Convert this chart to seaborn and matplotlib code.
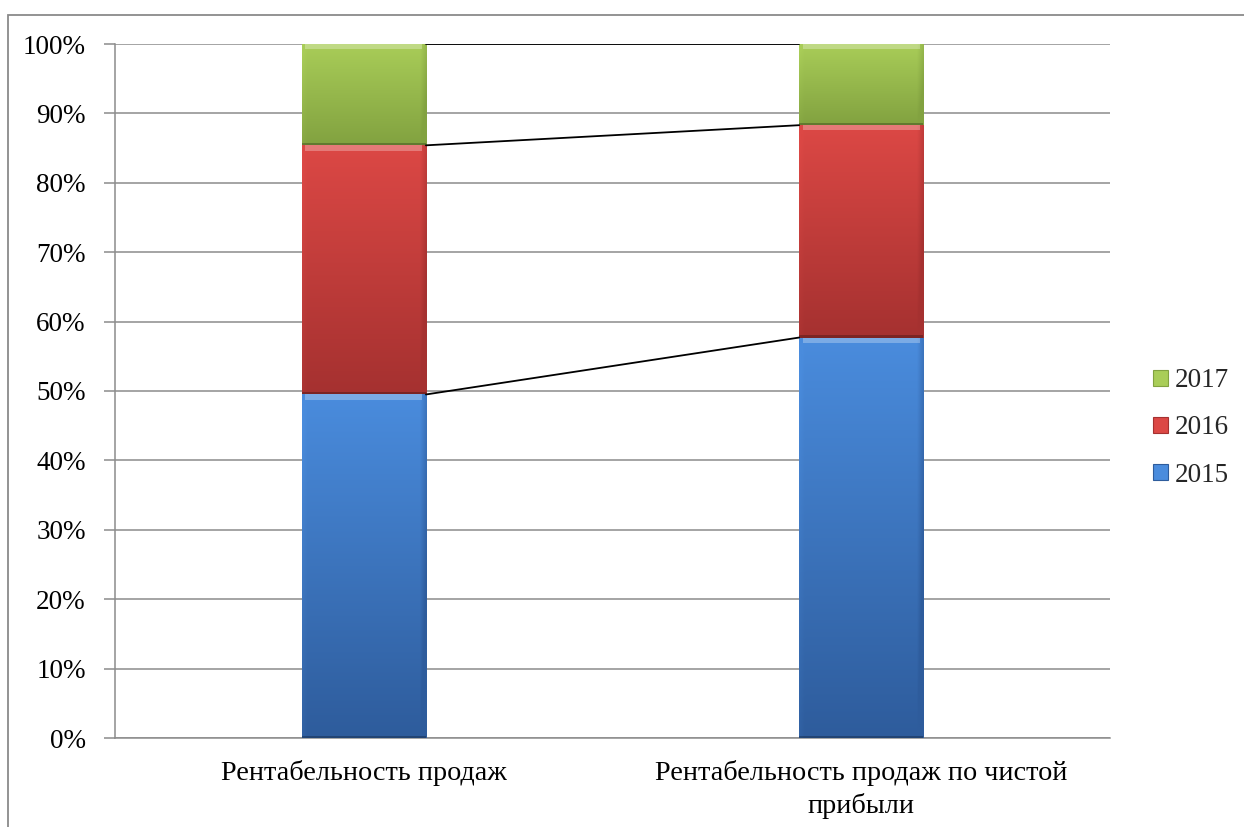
import numpy as np
import pandas as pd
import matplotlib
matplotlib.use("Agg")
import matplotlib.pyplot as plt
import seaborn as sns
from matplotlib.colors import LinearSegmentedColormap
from matplotlib.patches import Rectangle, Patch

# Data: share of each year in the indicator (percent of the 100% stack)
categories = ["Рентабельность продаж", "Рентабельность продаж по чистой\nприбыли"]
years = ["2015", "2016", "2017"]
share_2015 = [49.5, 57.7]
share_2016 = [35.9, 30.6]
share_2017 = [14.6, 11.7]
y_ticks = list(range(0, 101, 10))
y_tick_labels = [f"{t}%" for t in y_ticks]

# Colours per series: (top, bottom) of the vertical gradient
series_colors = {
    "2015": ("#4A8CDD", "#2E5C9C"),
    "2016": ("#DC4845", "#A53130"),
    "2017": ("#A9CD58", "#82A240"),
}

sns.set_theme(style="white")
plt.rcParams["font.family"] = ["Liberation Serif", "DejaVu Serif"]

df = pd.DataFrame({"category": categories, "2015": share_2015,
                   "2016": share_2016, "2017": share_2017})
df["cum_2015"] = df["2015"]
df["cum_2016"] = df["2015"] + df["2016"]
df["cum_2017"] = df["cum_2016"] + df["2017"]
lower_of = {"2015": None, "2016": "cum_2015", "2017": "cum_2016"}

fig = plt.figure(figsize=(12.44, 8.27), dpi=100)
ax = fig.add_axes([115 / 1244, 1 - 738 / 827, (1110 - 115) / 1244, (738 - 44) / 827])

# Stacked bars: draw cumulative totals from the tallest down
layers = [("2017", "cum_2017"), ("2016", "cum_2016"), ("2015", "cum_2015")]
patch_groups = {}
for year, col in layers:
    n_before = len(ax.patches)
    sns.barplot(data=df, x="category", y=col, color=series_colors[year][0],
                width=0.25, ax=ax, linewidth=0, saturation=1, zorder=3)
    patch_groups[year] = list(ax.patches[n_before:])

# Gradient shading with a soft bevel for each visible bar segment
for year, patches in patch_groups.items():
    top_c, bot_c = series_colors[year]
    cmap = LinearSegmentedColormap.from_list(f"g{year}", [bot_c, top_c])
    for p in patches:
        x0, w, top = p.get_x(), p.get_width(), p.get_y() + p.get_height()
        idx = int(round(x0 + w / 2))
        low = 0.0 if lower_of[year] is None else df[lower_of[year]][idx]
        ny, nx = 200, 80
        yy = np.linspace(0, 1, ny)[:, None]
        xx = np.linspace(0, 1, nx)[None, :]
        vals = yy * np.ones_like(xx)
        # darker right edge, slightly lighter left edge
        vals = vals - 0.45 * np.clip((xx - 0.95) / 0.05, 0, 1) \
                    + 0.10 * np.clip((0.04 - xx) / 0.04, 0, 1)
        img = ax.imshow(np.clip(vals, -0.2, 1.1), cmap=cmap, vmin=0, vmax=1,
                        aspect="auto", origin="lower",
                        extent=(x0, x0 + w, low, top), zorder=3.5,
                        interpolation="bilinear")
        img.set_clip_path(p)
        # light bevel along the top of the segment
        ax.add_patch(Rectangle((x0 + w * 0.03, top - 0.75), w * 0.94, 0.75,
                               facecolor="white", alpha=0.28, lw=0, zorder=3.6))
        # dark seam at the bottom of the segment
        ax.add_patch(Rectangle((x0, low), w, 0.35, facecolor="black",
                               alpha=0.25, lw=0, zorder=3.6))

# Series lines joining the segment boundaries of neighbouring bars
bar_positions = sorted([(p.get_x(), p.get_width()) for p in patch_groups["2015"]])
(xa, wa), (xb, wb) = bar_positions
for col in ["cum_2015", "cum_2016", "cum_2017"]:
    ax.plot([xa + wa, xb], [df[col][0], df[col][1]], color="black", lw=1.3, zorder=4)

ax.set_xlim(-0.5, 1.5)
ax.set_ylim(0, 100)
ax.set_yticks(y_ticks)
ax.set_yticklabels(y_tick_labels)
ax.yaxis.grid(True, color="#8C8C8C", linewidth=1.1)
ax.set_axisbelow(True)
ax.set_xlabel("")
ax.set_ylabel("")
for side in ["top", "right"]:
    ax.spines[side].set_visible(False)
for side in ["left", "bottom"]:
    ax.spines[side].set_color("#8C8C8C")
    ax.spines[side].set_linewidth(1.1)
ax.tick_params(axis="y", which="both", left=True, length=8, width=1.1, color="#8C8C8C",
               labelsize=19.5, pad=13, labelcolor="black")
ax.tick_params(axis="x", bottom=False, labelsize=20.3, pad=10, labelcolor="black")
for lbl in ax.get_xticklabels():
    lbl.set_linespacing(1.35)
    lbl.set_verticalalignment("top")

# Legend, newest year on top
handles = [Patch(facecolor=series_colors[y][0], edgecolor=series_colors[y][1], lw=0.8)
           for y in reversed(years)]
fig.legend(handles, list(reversed(years)), loc="center left",
           bbox_to_anchor=(1153 / 1244, 1 - 428 / 827), frameon=False, fontsize=19.5,
           handlelength=0.55, handleheight=0.55, handletextpad=0.25, labelspacing=0.82,
           borderpad=0, borderaxespad=0)

# Outer chart border
fig.add_artist(Rectangle((8 / 1244, -0.5), 2.0, 1.5 - 15 / 827,
                         transform=fig.transFigure, fill=False,
                         edgecolor="#8A8A8A", lw=1.3))

fig.savefig("out.png", dpi=100)
